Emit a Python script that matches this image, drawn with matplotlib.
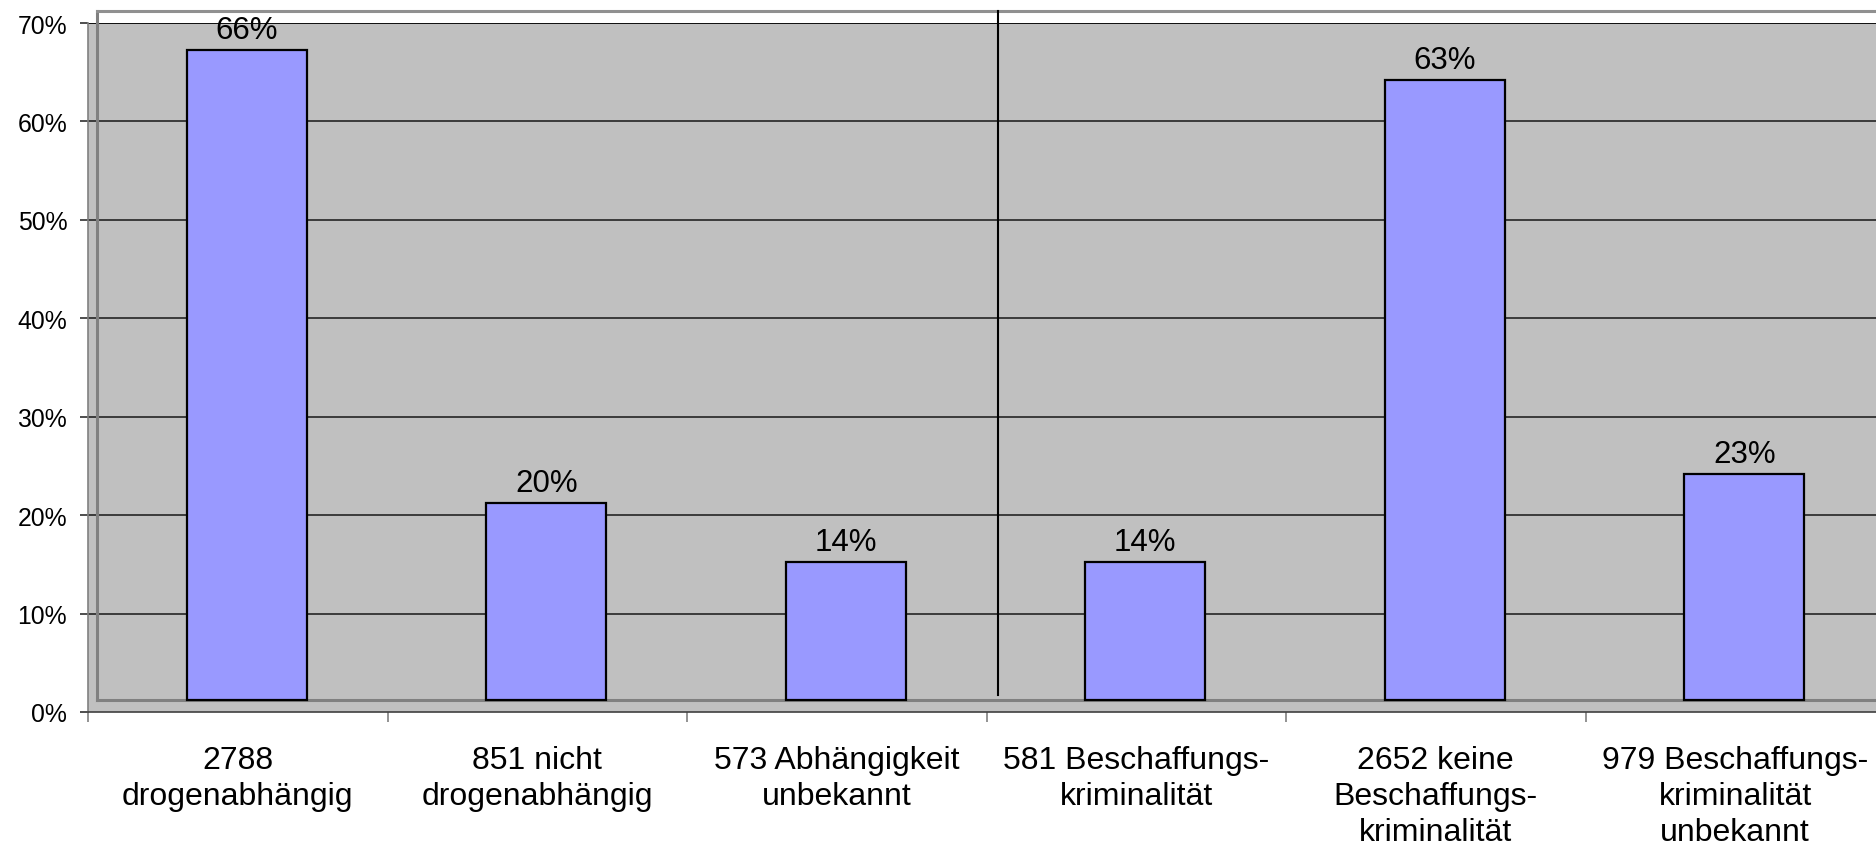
import matplotlib.pyplot as plt

plt.rcParams['font.family'] = ['Liberation Sans', 'DejaVu Sans']

# data
categories = ['2788\ndrogenabhängig', '851 nicht\ndrogenabhängig', '573 Abhängigkeit\nunbekannt',
              '581 Beschaffungs-\nkriminalität', '2652 keine\nBeschaffungs-\nkriminalität',
              '979 Beschaffungs-\nkriminalität\nunbekannt']
values = [0.66, 0.20, 0.14, 0.14, 0.63, 0.23]
labels = ['66%', '20%', '14%', '14%', '63%', '23%']
yticks = [0, 0.1, 0.2, 0.3, 0.4, 0.5, 0.6, 0.7]

# pseudo-3D depth offset (Excel style back wall)
dx = 0.03
floor = 0.0122

fig = plt.figure(figsize=(18.76, 8.53), dpi=100)
ax = fig.add_axes([88 / 1876, 1 - 713 / 853, (1885 - 88) / 1876, (713 - 24) / 853])
ax.set_facecolor('#C0C0C0')
ax.set_xlim(-0.5, 5.5)
ax.set_ylim(0, 0.70)

# gridlines
for t in yticks[1:]:
    ax.axhline(t, color='#303030' if t < 0.7 else 'black', lw=1.3, zorder=1)

# back wall outline
ax.plot([-0.5 + dx, -0.5 + dx], [floor, 0.70 + floor], color='#808080', lw=2.2, clip_on=False, zorder=2)
ax.plot([-0.5 + dx, 5.5], [0.70 + floor, 0.70 + floor], color='#909090', lw=2.2, clip_on=False, zorder=2)
ax.plot([-0.5 + dx, 5.5], [floor, floor], color='#808080', lw=2.2, zorder=2)

# separator between the two groups
ax.plot([2.5 + 0.04, 2.5 + 0.04], [0.017, 0.70 + floor], color='black', lw=1.5, clip_on=False, zorder=2)

x = list(range(len(values)))
bx = [i + dx for i in x]
ax.bar(bx, values, width=0.40, bottom=floor, color='#9999FF', edgecolor='black', linewidth=1.6, zorder=3)
for xi, v, lab in zip(bx, values, labels):
    ax.text(xi, v + floor + 0.005, lab, ha='center', va='bottom', fontsize=22.5, zorder=4)

ax.set_yticks(yticks)
ax.set_yticklabels([f'{int(round(t * 100))}%' for t in yticks], fontsize=17.8)
ax.set_xticks([i + 0.5 for i in range(-1, 6)], minor=False)
ax.set_xticklabels([])
ax.set_xticks(x, minor=True)
ax.set_xticklabels(categories, minor=True, fontsize=23, linespacing=1.25)
ax.tick_params(axis='x', which='minor', length=0, pad=24)
ax.tick_params(axis='x', which='major', length=7, color='#808080', width=1.2)
ax.tick_params(axis='y', length=6, color='#303030', width=1.2, pad=9)

for s in ['top', 'right']:
    ax.spines[s].set_visible(False)
ax.spines['left'].set_color('#808080')
ax.spines['bottom'].set_color('#404040')
ax.spines['left'].set_linewidth(1.2)
ax.spines['bottom'].set_linewidth(1.2)

fig.savefig('out.png', dpi=100)
